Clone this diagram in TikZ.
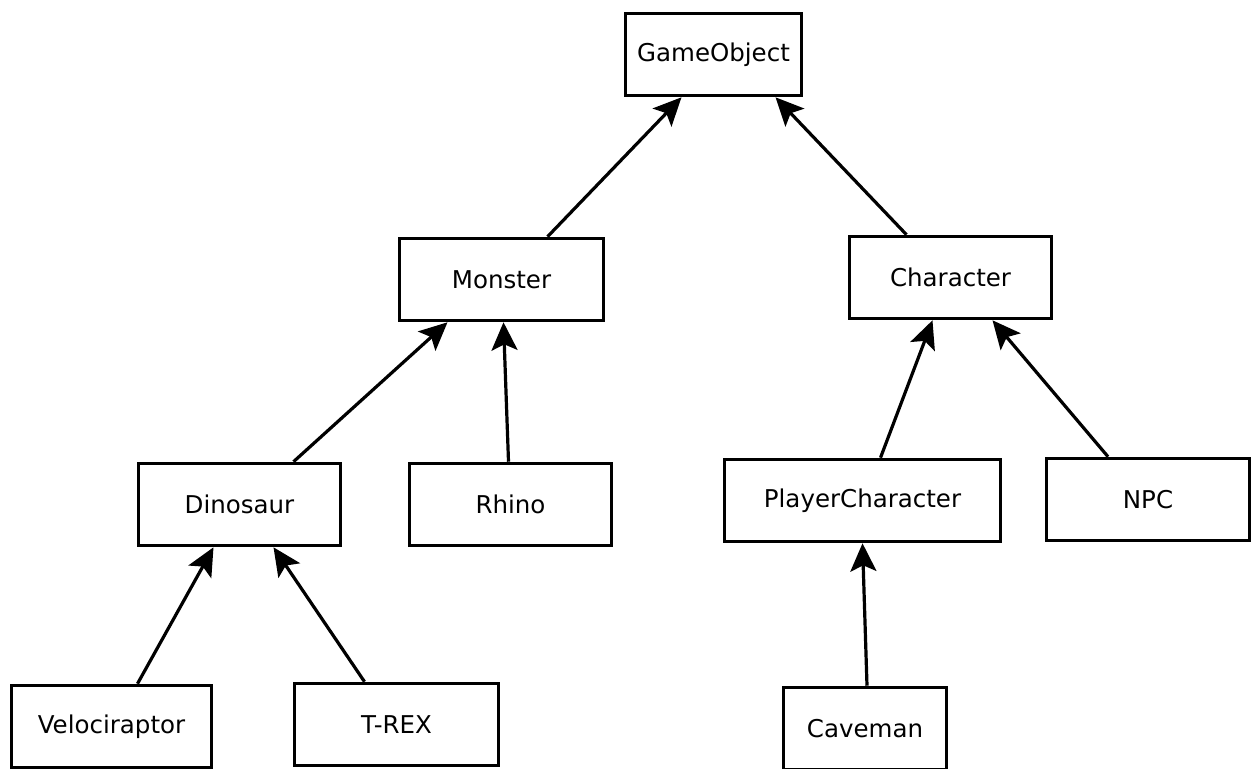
\documentclass[tikz,border=0pt]{standalone}
\usepackage{fontspec}
\setmainfont{DejaVu Sans}
\usetikzlibrary{arrows.meta}
\begin{document}
\begin{tikzpicture}[x=0.5pt,y=-0.5pt,
  cls/.style={draw,line width=1.8pt,minimum height=41pt,inner sep=0pt,
    font=\fontsize{12.25}{14}\selectfont},
  inherit/.style={line width=1.6pt,-{Stealth[length=14pt,width=13pt,inset=3pt]}}]
\useasboundingbox (0,0) rectangle (1252,768);
%
\node[cls,minimum width=88pt] (GameObject) at (713.5,54.5) {GameObject};
%
\node[cls,minimum width=102pt] (Monster) at (501.5,279.5) {Monster};
\node[cls,minimum width=101pt] (Character) at (950.5,277.5) {Character};
%
\node[cls,minimum width=101pt] (Dinosaur) at (239.5,504.5) {Dinosaur};
\node[cls,minimum width=101pt] (Rhino) at (510.5,504.5) {Rhino};
\node[cls,minimum width=138pt] (PlayerCharacter) at (862.5,500.5) {PlayerCharacter};
\node[cls,minimum width=101.5pt] (NPC) at (1148,499.5) {NPC};
%
\node[cls,minimum width=100pt] (Velociraptor) at (111.5,726.5) {Velociraptor};
\node[cls,minimum width=102pt] (TREX) at (396.5,724.5) {T-REX};
\node[cls,minimum width=81.5pt] (Caveman) at (865,728.5) {Caveman};
%
\draw[inherit] ([xshift=23pt]Monster.north) -- ([xshift=-16pt]GameObject.south);
\draw[inherit] ([xshift=-22pt]Character.north) -- ([xshift=31pt]GameObject.south);
\draw[inherit] ([xshift=27pt]Dinosaur.north) -- ([xshift=-27pt]Monster.south);
\draw[inherit] ([xshift=-1pt]Rhino.north) -- ([xshift=1pt]Monster.south);
\draw[inherit] ([xshift=9pt]PlayerCharacter.north) -- ([xshift=-9pt]Character.south);
\draw[inherit] ([xshift=-20pt]NPC.north) -- ([xshift=21pt]Character.south);
\draw[inherit] ([xshift=13pt]Velociraptor.north) -- ([xshift=-13pt]Dinosaur.south);
\draw[inherit] ([xshift=-16pt]TREX.north) -- ([xshift=17pt]Dinosaur.south);
\draw[inherit] ([xshift=1pt]Caveman.north) -- (PlayerCharacter.south);
\end{tikzpicture}
\end{document}
